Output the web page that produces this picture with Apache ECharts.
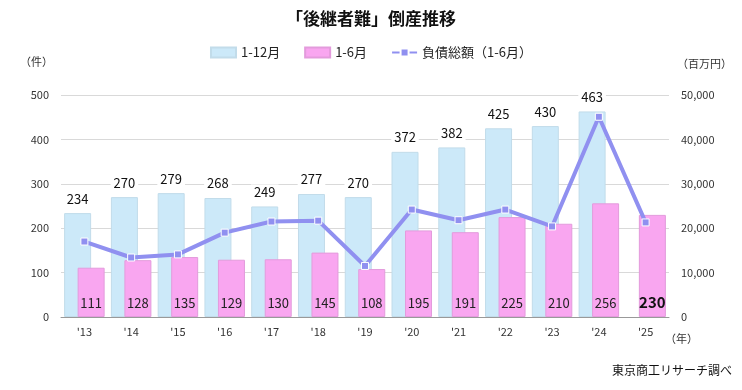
<!DOCTYPE html>
<html><head><meta charset="utf-8">
<script src="https://cdn.jsdelivr.net/npm/echarts@6/dist/echarts.min.js"></script>
<style>html,body{margin:0;padding:0;background:#fff}#c{width:742px;height:390px}</style>
</head><body><div id="c"></div>
<script>
var categories = ["'13","'14","'15","'16","'17","'18","'19","'20","'21","'22","'23","'24","'25"];
var fullYear = [234,270,279,268,249,277,270,372,382,425,430,463,null];
var firstHalf = [111,128,135,129,130,145,108,195,191,225,210,256,230];
var debt = [17000,13400,14100,19000,21500,21700,11500,24200,21800,24200,20400,45100,21300];
var leftTicks = {min:0,max:500,interval:100};
var rightTicks = {min:0,max:50000,interval:10000};

var FONT = '"Noto Sans CJK JP", "Noto Sans", sans-serif';
var chart = echarts.init(document.getElementById('c'), null, {renderer:'canvas'});
var pinkData = firstHalf.map(function(v,i){
  if (i === firstHalf.length-1) {
    return {value:v, label:{fontWeight:'bold', fontSize:15, color:'#111'}};
  }
  return v;
});
chart.setOption({
  animation:false,
  textStyle:{fontFamily:FONT},
  title:{text:'「後継者難」倒産推移', left:'center', top:5,
    textStyle:{fontFamily:FONT, fontSize:17, fontWeight:'bold', color:'#111'}},
  legend:{top:41, left:'center', itemWidth:25, itemHeight:10, itemGap:24,
    textStyle:{fontFamily:FONT, fontSize:13, color:'#222'},
    data:[{name:'1-12月', icon:'rect'},{name:'1-6月', icon:'rect'},{name:'負債総額（1-6月）'}]},
  grid:{left:61, right:73, top:95, bottom:73},
  xAxis:{type:'category', data:categories,
    axisLine:{lineStyle:{color:'#999'}}, axisTick:{show:false},
    axisLabel:{fontFamily:FONT, fontSize:11, color:'#333', margin:9}},
  yAxis:[
    {type:'value', min:leftTicks.min, max:leftTicks.max, interval:leftTicks.interval,
     axisLine:{show:false}, axisTick:{show:false},
     splitLine:{lineStyle:{color:'#d9d9d9'}},
     axisLabel:{fontFamily:FONT, fontSize:11, color:'#333', margin:12}},
    {type:'value', min:rightTicks.min, max:rightTicks.max, interval:rightTicks.interval,
     axisLine:{show:false}, axisTick:{show:false}, splitLine:{show:false},
     axisLabel:{fontFamily:FONT, fontSize:11, color:'#333', margin:12,
       formatter:function(v){return v.toString().replace(/\B(?=(\d{3})+(?!\d))/g, ',');}}}
  ],
  series:[
    {name:'1-12月', type:'bar', data:fullYear, barWidth:27, barGap:'-50%',
     itemStyle:{color:'#cce9f9', borderColor:'#c2dcea', borderWidth:1},
     label:{show:true, position:'top', distance:7, fontFamily:FONT, fontSize:13, color:'#111',
       backgroundColor:'#fff', padding:[1,3]}},
    {name:'1-6月', type:'bar', data:pinkData, barWidth:27,
     itemStyle:{color:'#f9a6f0', borderColor:'#e39bdc', borderWidth:1},
     label:{show:true, position:'insideBottom', distance:7, fontFamily:FONT, fontSize:13, color:'#222'}},
    {name:'負債総額（1-6月）', type:'line', yAxisIndex:1, data:debt, z:5,
     symbol:'rect', symbolSize:7, showAllSymbol:true,
     lineStyle:{color:'#9090f0', width:4},
     itemStyle:{color:'#9090f0', borderColor:'#fff', borderWidth:1}}
  ],
  graphic:[
    {type:'text', left:20, top:56, style:{text:'（件）', font:'11px '+FONT, fill:'#333'}},
    {type:'text', left:677, top:58, style:{text:'（百万円）', font:'11px '+FONT, fill:'#333'}},
    {type:'text', left:665, top:333, style:{text:'（年）', font:'11px '+FONT, fill:'#333'}},
    {type:'text', left:612, top:364, style:{text:'東京商工リサーチ調べ', font:'12px '+FONT, fill:'#111'}}
  ]
});
</script></body></html>
